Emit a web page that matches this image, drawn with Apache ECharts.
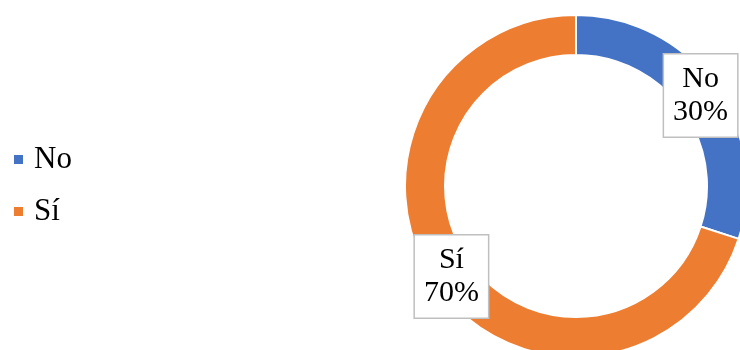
<!DOCTYPE html>
<html>
<head>
<meta charset="utf-8">
<style>
  html, body { margin: 0; padding: 0; background: #ffffff; }
  #chart { width: 740px; height: 350px; }
</style>
<script src="https://cdn.jsdelivr.net/npm/echarts@6/dist/echarts.min.js"></script>
</head>
<body>
<div id="chart"></div>
<script>
// Survey answers and their shares
const categories = ['No', 'Sí'];
const values = [30, 70];
const colors = ['#4472C4', '#ED7D31'];

const serif = '"Liberation Serif", "Times New Roman", serif';

const chart = echarts.init(document.getElementById('chart'), null, { renderer: 'canvas' });

chart.setOption({
  backgroundColor: '#ffffff',
  animation: false,
  color: colors,
  legend: {
    orient: 'vertical',
    left: 7,
    top: 139,
    icon: 'rect',
    itemWidth: 11,
    itemHeight: 11,
    itemGap: 21,
    data: categories,
    textStyle: {
      fontFamily: serif,
      fontSize: 31,
      lineHeight: 30,
      color: '#000000',
      padding: [0, 0, 0, 5]
    }
  },
  series: [{
    type: 'pie',
    center: [576, 186],
    radius: [131, 171],
    startAngle: 90,
    clockwise: true,
    avoidLabelOverlap: false,
    itemStyle: {
      borderColor: '#ffffff',
      borderWidth: 2
    },
    label: {
      show: true,
      position: 'inside',
      formatter: '{b}\n{d}%',
      fontFamily: serif,
      fontSize: 30,
      lineHeight: 33,
      color: '#000000',
      backgroundColor: '#ffffff',
      borderColor: '#bfbfbf',
      borderWidth: 1.5,
      padding: [8, 9],
      align: 'center'
    },
    labelLine: { show: false },
    emphasis: { disabled: true },
    data: categories.map((name, i) => ({ name: name, value: values[i] }))
  }]
});
</script>
</body>
</html>
